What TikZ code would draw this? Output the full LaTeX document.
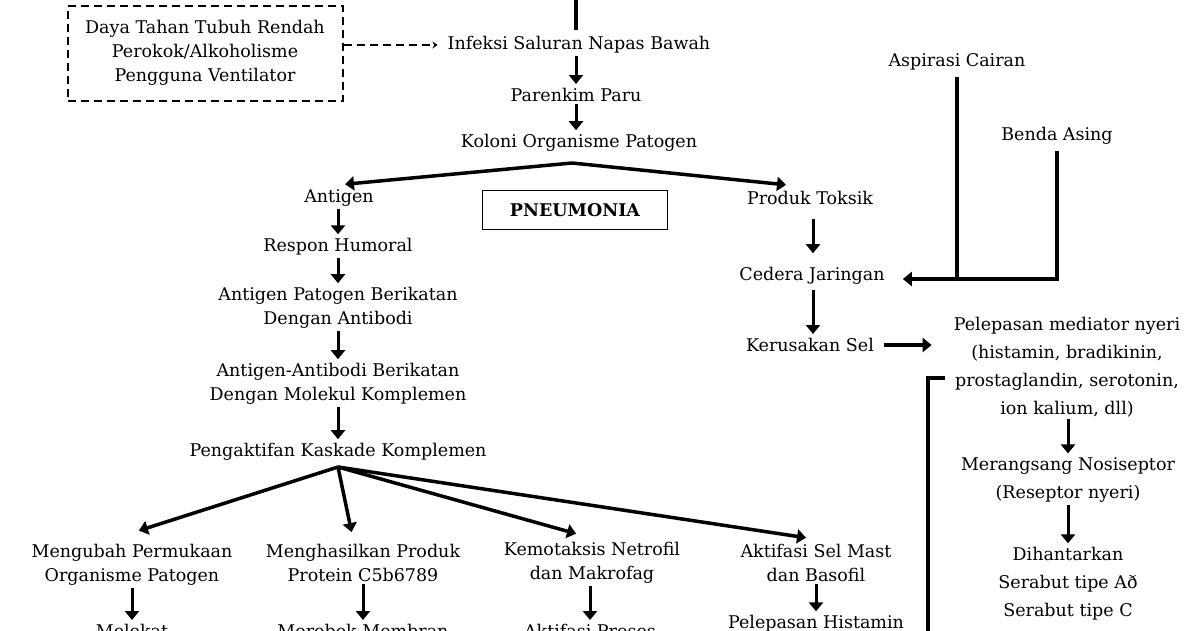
\documentclass[tikz,border=0pt]{standalone}
\usepackage{fontspec}
\setmainfont{DejaVu Serif}
\usetikzlibrary{arrows.meta,positioning,calc}

\begin{document}
\begin{tikzpicture}[
    x=1pt, y=-1pt,
    label text/.style={
        font=\fontsize{17.5}{24}\selectfont,
        align=center,
        inner sep=2pt
    },
    wide text/.style={
        label text,
        font=\fontsize{17.5}{28}\selectfont
    },
    flow arrow/.style={
        line width=3pt,
        -{Triangle[width=14pt,length=9pt]},
        shorten >=2pt
    },
    risk box/.style={
        label text,
        draw,
        dashed,
        dash pattern=on 8pt off 5pt,
        line width=2pt,
        minimum width=275pt,
        minimum height=95pt
    },
    title box/.style={
        draw,
        line width=1.8pt,
        minimum width=185pt,
        minimum height=39pt,
        font=\fontsize{17.5}{20}\selectfont\bfseries
    }
]
\path[use as bounding box, clip] (0,0) rectangle (1200,630);

% Main line
\coordinate (top) at (576,0);
\node[risk box] (risk) at (205,53) {Daya Tahan Tubuh Rendah\\Perokok/Alkoholisme\\Pengguna Ventilator};
\node[label text] (inf) at (579,45) {Infeksi Saluran Napas Bawah};
\node[label text] (par) at (576,95) {Parenkim Paru};
\node[label text] (kol) at (579,143) {Koloni Organisme Patogen};
\coordinate (br) at (572,163);

\draw[line width=3.5pt, shorten >=4pt] (top) -- (top |- inf.north);
\draw[line width=2pt, dash pattern=on 8pt off 5pt,
      -{Stealth[width=7pt,length=5pt]}, shorten >=8pt] (risk.east |- inf) -- (inf.west);
\draw[flow arrow] (inf.south -| par) -- (par.north);
\draw[flow arrow] (par.south) -- (par.south |- kol.north);

\node[title box] (pneu) at (575,210) {PNEUMONIA};

% Antigen branch
\node[label text] (ant) at (339,198) {Antigen};
\node[label text] (rh) at (338,247) {Respon Humoral};
\node[label text] (apb) at (338,308) {Antigen Patogen Berikatan\\Dengan Antibodi};
\node[label text] (aab) at (338,384) {Antigen-Antibodi Berikatan\\Dengan Molekul Komplemen};
\node[label text] (pkk) at (338,452) {Pengaktifan Kaskade Komplemen};
\coordinate (fan) at (338,467);

\draw[flow arrow, line width=3.5pt] (br) -- ([xshift=4pt,yshift=3pt]ant.north);
\draw[flow arrow] (ant.south -| rh) -- (rh.north);
\draw[flow arrow] (rh.south) -- (apb.north);
\draw[flow arrow] (apb.south) -- (aab.north);
\draw[flow arrow] (aab.south) -- (pkk.north);

% Complement effects
\node[label text] (mp)  at (132,565) {Mengubah Permukaan\\Organisme Patogen};
\node[label text] (mpp) at (363,563) {Menghasilkan Produk\\Protein C5b6789};
\node[label text] (kn)  at (592,563) {Kemotaksis Netrofil\\dan Makrofag};
\node[label text] (asm) at (816,563) {Aktifasi Sel Mast\\dan Basofil};

\draw[flow arrow, line width=3.5pt] (fan) -- ([xshift=5pt,yshift=11pt]mp.north);
\draw[flow arrow, line width=3.5pt] (fan) -- ([xshift=-11pt,yshift=8pt]mpp.north);
\draw[flow arrow, line width=3.5pt] (fan) -- ([xshift=-14pt,yshift=6pt]kn.north);
\draw[flow arrow, line width=3.5pt] (fan) -- ([xshift=-8pt,yshift=4pt]asm.north);

\node[label text] (mel) at (132,631) {Melekat};
\node[label text] (mm)  at (363,631) {Merobek Membran};
\node[label text] (ap)  at (590,631) {Aktifasi Proses};
\node[label text] (ph)  at (816,624) {Pelepasan Histamin};

\draw[flow arrow] (mp.south) -- (mp.south |- mel.north);
\draw[flow arrow] (mpp.south) -- (mpp.south |- mm.north);
\draw[flow arrow] (ap.north |- kn.south) -- (ap.north);
\draw[flow arrow] (asm.south) -- (asm.south |- ph.north);

% Toxic product branch
\node[label text] (pt) at (810,198) {Produk Toksik};
\node[label text] (cj) at (812,276) {Cedera Jaringan};
\node[label text] (ks) at (810,345) {Kerusakan Sel};

\draw[flow arrow, line width=3.5pt] (br) -- ([xshift=-22pt,yshift=4pt]pt.north);
\draw[flow arrow, shorten <=12pt, shorten >=12pt] ([xshift=3pt]pt.south) -- ([xshift=1pt]cj.north);
\draw[flow arrow, shorten <=3pt] ([xshift=1pt]cj.south) -- ([xshift=3pt]ks.north);

\node[label text] (ac) at (957,62) {Aspirasi Cairan};
\node[label text] (ba) at (1057,136) {Benda Asing};

\draw[line width=3.5pt, shorten <=4pt] (ac.south) -- ([yshift=-3pt]ac.south |- cj.east);
\draw[flow arrow, line width=3.5pt, shorten <=4pt, shorten >=16pt] (ba.south) |- ([yshift=-3pt]cj.east);

% Pain pathway
\node[wide text] (pm) at (1067,367) {Pelepasan mediator nyeri\\(histamin, bradikinin,\\prostaglandin, serotonin,\\ion kalium, dll)};
\node[wide text] (mn) at (1068,480) {Merangsang Nosiseptor\\(Reseptor nyeri)};
\node[wide text] (dh) at (1068,584) {Dihantarkan\\Serabut tipe Að\\Serabut tipe C};

\draw[flow arrow, line width=3.5pt, shorten <=8pt, shorten >=20pt] (ks.east) -- (ks.east -| pm.west);
\draw[flow arrow] (pm.south -| mn) -- (mn.north);
\draw[flow arrow] (mn.south) -- (dh.north);

\coordinate (brk) at (945,378);
\coordinate (brkend) at (928,640);
\draw[line width=3.5pt] (brk) -| (brkend);

\end{tikzpicture}
\end{document}
